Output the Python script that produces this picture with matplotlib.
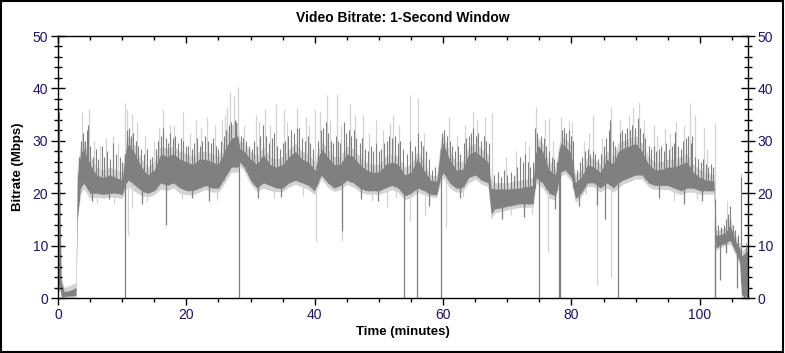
import numpy as np
import matplotlib
matplotlib.use("Agg")
import matplotlib.pyplot as plt
from matplotlib.ticker import MultipleLocator

plt.rcParams['font.family'] = ['Liberation Sans', 'DejaVu Sans']

# band envelopes (minutes, Mbps)
minutes = [0.0, 0.2, 0.5, 1, 2, 2.8, 3.0, 3.5, 4, 5, 6, 7, 8, 9, 10, 10.6, 11, 12, 13, 14,
           15, 16, 17, 18, 19, 20, 21, 22, 23, 24, 25, 26, 27, 28, 28.3, 29, 30, 31, 32, 33,
           34, 35, 36, 37, 38, 39, 40, 41, 42, 43, 44, 45, 46, 47, 48, 49, 50, 51, 52, 53,
           54, 55, 56, 57, 58, 59, 59.6, 60, 61, 62, 63, 64, 65, 66, 67, 67.5, 68, 70, 72, 74,
           74.5, 75.5, 76.5, 77.5, 78.3, 79, 80, 80.6, 81.5, 82.5, 83.5, 84.5, 85.5, 86.5, 87.3, 88, 89, 90,
           91, 92, 93, 94, 95, 96, 97, 98, 99, 100, 101, 102.2, 102.5, 103, 104, 104.7, 105.5, 106.2, 106.5, 107.5]
dark_lo = [0, 3, 0.3, 0.3, 0.4, 0.5, 15, 21, 22, 20, 20, 19.8, 20, 20, 19.8, 22, 22.5, 21.5, 20.5, 20,
           20.5, 22, 21.5, 22, 21, 20.5, 20.5, 21, 21.5, 21, 21, 23, 25, 25, 26, 25, 22.5, 21, 22, 21.5,
           21, 21, 22, 22.5, 22, 21.5, 20.5, 23.5, 22, 21, 21.5, 22.5, 22, 21, 20.5, 20.5, 20.5, 21, 21.5, 21,
           19.5, 20, 21, 20.5, 19.8, 19.7, 23, 24, 22, 21, 21, 23, 23.5, 22.5, 22, 16, 17, 17.5, 18, 18,
           23, 22, 20, 19.5, 24, 24.5, 23, 19, 20, 22, 22, 21, 22, 21, 22, 22.5, 23, 23.5,
           23.5, 22, 21.5, 21.5, 21.5, 21, 20.5, 21, 21, 20.5, 20.5, 20.5, 9.5, 10, 10.5, 11, 9, 7, 0.5, 0.5]
dark_hi = [30, 27, 3, 1.2, 1.5, 2, 23, 27.5, 28.5, 25.5, 23.5, 23, 23.5, 23, 22.5, 28.5, 29.5, 27.5, 25, 23.5,
           24.5, 27.5, 27, 27.5, 26.5, 26, 25.5, 26.5, 26.5, 26, 25.5, 28.5, 30.5, 31, 28.5, 28, 26.5, 25.5, 27.5, 25.5,
           25, 25.5, 27, 28, 26.5, 26, 24.5, 28.5, 27, 25.5, 25.5, 27.5, 27, 25.5, 24.5, 24, 24, 25.5, 26, 25.5,
           23.5, 24, 26.5, 24.5, 22.5, 22.3, 28.5, 29.5, 26.5, 24.5, 24.5, 27.5, 28, 27, 26, 21, 20.8, 20.8, 21, 21.5,
           29.5, 28, 24.5, 23.5, 29.5, 29, 27.5, 22, 23, 25.5, 25, 24, 26.5, 25.5, 28, 28.5, 29, 29.5,
           28, 25.5, 24.5, 24.5, 25, 25, 25.5, 26, 24, 23, 22.5, 22.3, 12, 12, 12.5, 14, 11, 9.5, 8, 9]
light_lo = [0, 2, 0, 0, 0, 0, 14.5, 19.8, 20.8, 19, 19.3, 19, 19.3, 19.2, 19, 20.8, 21.3, 20.3, 19.5, 19.3,
            19.7, 20.8, 20.5, 21, 20, 19.7, 19.7, 20.2, 20.7, 20.2, 20.2, 22, 24, 24, 25.3, 24.2, 21.7, 20.3, 21, 20.5,
            20.3, 20.3, 21.2, 21.7, 21.2, 20.7, 19.7, 22.7, 21.2, 20.3, 20.7, 21.7, 21.2, 20.3, 19.8, 19.8, 19.8, 20.2, 20.7, 20.2,
            18.7, 19.2, 20.2, 19.7, 19.3, 19.2, 22, 23, 21, 20.2, 20.2, 22, 22.7, 21.7, 21.2, 15, 16.2, 16.8, 17.3, 17.3,
            22, 21, 19, 18.7, 23.2, 23.7, 22.2, 18.2, 19.3, 21.3, 21.2, 20.2, 21, 20.2, 21, 21.7, 22.2, 22.7,
            22.7, 21.2, 20.7, 20.7, 20.7, 20.2, 19.7, 20.2, 20.2, 19.8, 19.8, 19.8, 9, 9.5, 10, 10.3, 8.3, 6.3, 0, 0]
light_hi = [35, 33, 4, 2, 2.5, 3, 25, 29, 30, 27, 25, 24.5, 25, 24.5, 24, 30.5, 31, 29, 26.5, 25,
            26, 29, 28.5, 29, 28, 27.5, 27, 28, 28, 27.5, 27, 30.5, 33, 33.5, 30, 29.5, 28, 27, 29, 27,
            26.5, 27, 28.5, 29.5, 28, 27.5, 26, 30, 28.5, 27, 27, 29, 28.5, 27, 26, 25.5, 25.5, 27, 27.5, 27,
            25, 25.5, 28, 26, 23.5, 23.3, 30, 31, 28, 26, 26, 29, 29.5, 28.5, 27.5, 22.5, 22, 22, 22.5, 23,
            31, 29.5, 26, 25, 31, 30.5, 29, 23.5, 24.5, 27, 26.5, 25.5, 28, 27, 29.5, 30, 30.5, 31,
            29.5, 27, 26, 26, 26.5, 26.5, 27, 27.5, 25.5, 24.5, 24, 23.5, 13, 13, 13.5, 15.5, 12, 10.5, 9, 10]

# light gray peaks above the band
peak_t = [0.1, 3.8, 4.8, 8.5, 10.4, 10.8, 11.5, 12.3, 16.4, 17.5, 19.5, 21.5, 23.2, 25.5, 26.8, 27.4,
          28.0, 30.8, 32.3, 34.0, 35.2, 37.2, 38.7, 40.0, 40.8, 41.9, 43.5, 45.5, 47.5, 49.6, 51.7,
          52.2, 54.8, 56.1, 60.9, 64.7, 66.5, 67.6, 72.8, 74.4, 75.8, 76.5, 78.3, 79.6, 83.4, 86.1,
          87.6, 89.6, 90.5, 92.8, 94.5, 96.3, 98.4, 99.2, 100.7, 102.3, 106.4,
          5.6, 6.6, 7.5, 9.3, 13.6, 14.9, 15.8, 18.1, 20.6, 22.3, 24.4, 26.0, 26.4, 29.0, 31.3,
          33.0, 35.7, 39.1, 42.3, 44.1, 46.3, 48.5, 50.6, 53.1, 57.0, 62.1, 63.4, 65.3, 69.8, 71.3,
          73.4, 77.1, 80.1, 81.9, 82.7, 84.8, 88.9, 91.3, 93.4, 95.4, 97.6, 101.1, 104.2]
peak_v = [35.5, 35.5, 36, 31, 37.3, 36, 35.2, 33.5, 36, 33, 35.5, 34, 34.5, 34, 39.4, 38.5,
          40.2, 35, 36, 37, 36, 36.3, 34.5, 36, 35.5, 38.7, 38.9, 37, 35, 34, 33.4,
          35, 38.7, 38.2, 34.5, 35.5, 34.5, 35.3, 30, 36.4, 34, 34.3, 34.6, 34, 35, 36.3,
          34, 36.5, 37.5, 33, 32.5, 33.5, 37.2, 35, 32.5, 33.2, 23.8,
          30, 29, 30.5, 29.5, 31, 30, 32.5, 33, 31.5, 32.5, 33, 35, 36.5, 33, 33.5,
          33, 33.5, 33, 34, 33, 35, 31.5, 32, 33, 31.5, 31, 33, 34, 27, 28,
          29, 30, 33.5, 30, 31.5, 30.5, 35, 34, 31, 31.5, 33, 28.5, 18.5]
# dark gray peaks above the band
dpeak_t = [0.1, 3.3, 3.6, 3.9, 4.2, 4.5, 4.7, 5.0, 5.4, 5.9, 6.3, 6.8, 7.2, 7.7, 8.1, 8.6, 9.1, 9.6, 10.0,
           10.7, 11.0, 11.3, 11.7, 12.1, 12.5, 12.9, 13.4, 13.8, 14.3, 14.7,
           15.2, 15.6, 16.0, 16.4, 16.8, 17.2, 17.5, 17.9, 18.3, 18.7, 19.1, 19.5, 19.9,
           20.3, 20.8, 21.2, 21.6, 22.1, 22.5, 22.9, 23.3, 23.8, 24.2, 24.6, 25.0,
           25.4, 25.8, 26.2, 26.6, 27.0, 27.5, 27.8, 28.5, 28.9, 29.3, 29.7,
           30.2, 30.6, 31.0, 31.5, 32.0, 32.4, 32.8, 33.3, 33.7, 34.1, 34.6, 35.0,
           35.4, 35.9, 36.3, 36.8, 37.2, 37.6, 38.0, 38.5, 38.9, 39.3, 39.8,
           40.5, 40.9, 41.3, 41.7, 42.1, 42.5, 42.9, 43.3, 43.7, 44.0, 44.5, 44.9,
           45.3, 45.7, 46.1, 46.5, 47.0, 47.4, 47.8, 48.3, 48.7, 49.1, 49.6, 50.0,
           50.4, 50.8, 51.2, 51.6, 52.0, 52.5, 52.9, 53.3, 53.7,
           54.3, 54.8, 55.2, 55.6, 56.1, 56.5, 56.9, 57.3, 57.8, 58.3, 58.8,
           59.8, 60.2, 60.6, 61.0, 61.4, 61.9, 62.3, 62.7, 63.2, 63.6, 64.0, 64.4, 64.7, 65.1, 65.5, 65.9, 66.3, 66.7, 67.1,
           68.0, 68.5, 69.0, 69.5, 70.0, 70.5, 71.0, 71.5, 72.0, 72.4, 72.8, 73.2, 73.6, 74.0,
           74.3, 74.7, 75.3, 75.7, 76.1, 76.5, 76.9, 77.3, 77.7,
           78.5, 78.8, 79.2, 79.6, 80.0, 80.3,
           80.9, 81.3, 81.7, 82.1, 82.5, 82.9, 83.3, 83.7, 84.2, 84.6, 85.0, 85.4, 85.8, 86.0, 86.4, 86.8,
           87.5, 87.9, 88.3, 88.7, 89.1, 89.5, 89.9, 90.3, 90.7, 91.1, 91.5,
           92.0, 92.4, 92.8, 93.2, 93.6, 94.0, 94.4, 94.8, 95.2, 95.6, 96.0, 96.2, 96.6, 97.0, 97.4, 97.8, 98.2, 98.6, 98.8,
           99.3, 99.7, 100.1, 100.5, 100.9, 101.3, 101.7, 102.1,
           102.8, 103.3, 103.7, 104.1, 104.4, 104.7, 105.1, 105.5, 105.9, 106.4, 107.2]
dpeak_v = [35.5, 27, 30, 31.5, 30, 32, 33, 29, 27, 28.5, 26.5, 29, 27, 28, 26.5, 29.5, 27.5, 27, 26,
           32, 32.5, 31, 31.5, 30, 29, 28.5, 27.5, 28.5, 26.5, 27,
           28.5, 30, 31, 32.5, 30.5, 29.5, 31.5, 30.5, 31, 29.5, 30.5, 30, 29,
           29, 28.5, 29.5, 30.5, 29, 30, 31, 30, 29.5, 30.5, 29, 28.5,
           30, 31, 32, 33, 33.5, 34, 33.5, 31, 30.5, 30, 29,
           28.5, 30, 29, 31, 33, 31, 29.5, 30.5, 31.5, 29, 28.5, 29.5,
           30, 31, 32, 31.5, 32.5, 32.5, 30.5, 30, 31, 29.5, 28.5,
           30, 32, 32.5, 33.5, 31.5, 30, 29.5, 31, 30, 29.5, 33.5, 31.5,
           32, 31, 32, 30.5, 29.5, 30.5, 28.5, 28, 29, 28, 29.5, 28,
           28.5, 29.5, 30, 31, 30.5, 31, 29.5, 30, 28.5,
           27.5, 30, 28, 29, 31.5, 30, 29, 28, 26.5, 24.5, 25,
           31.5, 32, 31, 30, 29, 28, 29, 27.5, 29.5, 30.5, 31, 31.5, 32.5, 31, 31.5, 30, 31, 30, 29.5,
           23.5, 24, 23, 24.5, 23.5, 24, 23.5, 25, 27, 26, 27.5, 26, 25, 26,
           32.5, 31.5, 31, 30.5, 29, 28, 27, 26.5, 26,
           32, 32.5, 31.5, 32, 31, 30,
           24.5, 26, 27, 28, 28.5, 27.5, 28, 27.5, 26.5, 27.5, 29, 30.5, 32, 34, 30, 29,
           31.5, 32, 31.5, 32.5, 32, 33, 32.5, 34.3, 32.5, 31.5, 30.5,
           29, 28.5, 29, 28, 28.5, 29, 28, 29.5, 28.5, 29, 29.5, 31.7, 29, 28.5, 30, 30.5, 31, 29.5, 31,
           27, 26.5, 26, 26.5, 25.5, 25, 25.5, 25,
           14, 13.5, 14, 15, 16, 17.5, 14, 13, 12, 23, 10.5]
# dark gray dips below the band
dip_t = [10.5, 16.9, 28.2, 44.3, 53.9, 56.0, 59.6, 75.0, 78.1, 78.2, 84.0, 85.2, 87.2, 102.3, 102.4,
         103.2, 105.8, 106.8, 107.1, 107.3,
         5.3, 7.9, 13.1, 20.9, 23.6, 31.2, 34.8, 47.2, 49.8, 57.8, 62.6, 69.2, 72.6, 77.4, 81.1,
         93.7, 97.5, 100.3, 104.0]
dip_v = [0, 13.9, 0, 12.7, 0, 0, 0, 0, 0, 0, 17.8, 15, 0, 0, 0, 3.4, 1.9, 0, 0, 0,
         18.5, 18.8, 18, 19, 18.5, 19, 19.2, 18.8, 18.5, 17.5, 19, 15, 15.5, 17, 17.5,
         19, 18, 18.5, 8.5]
# light gray dips below the band
ldip_t = [10.9, 11.5, 40.2, 44.3, 51.2, 54.8, 57.2, 60.5, 76.3, 84.0, 86.2,
          6.1, 8.8, 13.9, 19.3, 24.8, 33.6, 38.2, 48.9, 52.7, 63.1, 70.6, 73.9, 82.3, 95.9, 99.6]
ldip_v = [12, 17.2, 10.6, 10.8, 17.4, 14.6, 15.8, 13.3, 8.8, 2.5, 4,
          18.2, 18, 18.3, 18.8, 18.7, 19, 19.5, 18.6, 19.3, 19.2, 15.8, 16, 19.8, 18.5, 18.8]

DARK = '#808080'
LIGHT = '#d3d3d3'
NAVY = '#1e1466'

fig = plt.figure(figsize=(7.85, 3.53), dpi=100)
fig.patch.set_facecolor('white')
fig.patches.append(plt.Rectangle((0.001, 0.002), 0.997, 0.995, transform=fig.transFigure,
                                 fill=False, edgecolor='black', linewidth=1.5))
ax = fig.add_axes([58 / 785, 55 / 353, 690 / 785, 262 / 353])

t = np.array(minutes)
ax.fill_between(t, light_lo, light_hi, color=LIGHT, linewidth=0)
ax.vlines(peak_t, np.interp(peak_t, t, dark_hi), peak_v, color=LIGHT, linewidth=0.9)
ax.vlines(ldip_t, ldip_v, np.interp(ldip_t, t, dark_lo), color=LIGHT, linewidth=0.9)
ax.fill_between(t, dark_lo, dark_hi, color=DARK, linewidth=0)
ax.vlines(dpeak_t, np.interp(dpeak_t, t, dark_lo), dpeak_v, color=DARK, linewidth=0.8)
ax.vlines(dip_t, dip_v, np.interp(dip_t, t, dark_hi), color=DARK, linewidth=0.9)

ax.set_xlim(0, 107.5)
ax.set_ylim(0, 50)
ax.set_title("Video Bitrate: 1-Second Window", fontsize=10, fontweight='bold', pad=10)
ax.set_xlabel("Time (minutes)", fontsize=9.5, fontweight='bold', labelpad=3)
ax.set_ylabel("Bitrate (Mbps)", fontsize=9.5, fontweight='bold', labelpad=6)

ax.xaxis.set_major_locator(MultipleLocator(20))
ax.xaxis.set_minor_locator(MultipleLocator(5))
ax.yaxis.set_major_locator(MultipleLocator(10))
ax.yaxis.set_minor_locator(MultipleLocator(2))
ax.tick_params(axis='x', which='major', direction='out', length=5, width=1,
               top=True, labelsize=10, labelcolor=NAVY, pad=2)
ax.tick_params(axis='x', which='minor', direction='out', length=3, width=1, top=True)
ax.tick_params(axis='y', which='major', direction='inout', length=10, width=1,
               right=True, labelright=True, labelsize=10, labelcolor=NAVY, pad=2)
ax.tick_params(axis='y', which='minor', direction='inout', length=6, width=1, right=True)
# top ticks point down into the plot
for tl in ax.xaxis.get_ticklines(minor=False)[1::2] + ax.xaxis.get_ticklines(minor=True)[1::2]:
    tl.set_marker(matplotlib.markers.TICKDOWN)
for s in ax.spines.values():
    s.set_linewidth(1)

fig.savefig("out.png", dpi=100)
